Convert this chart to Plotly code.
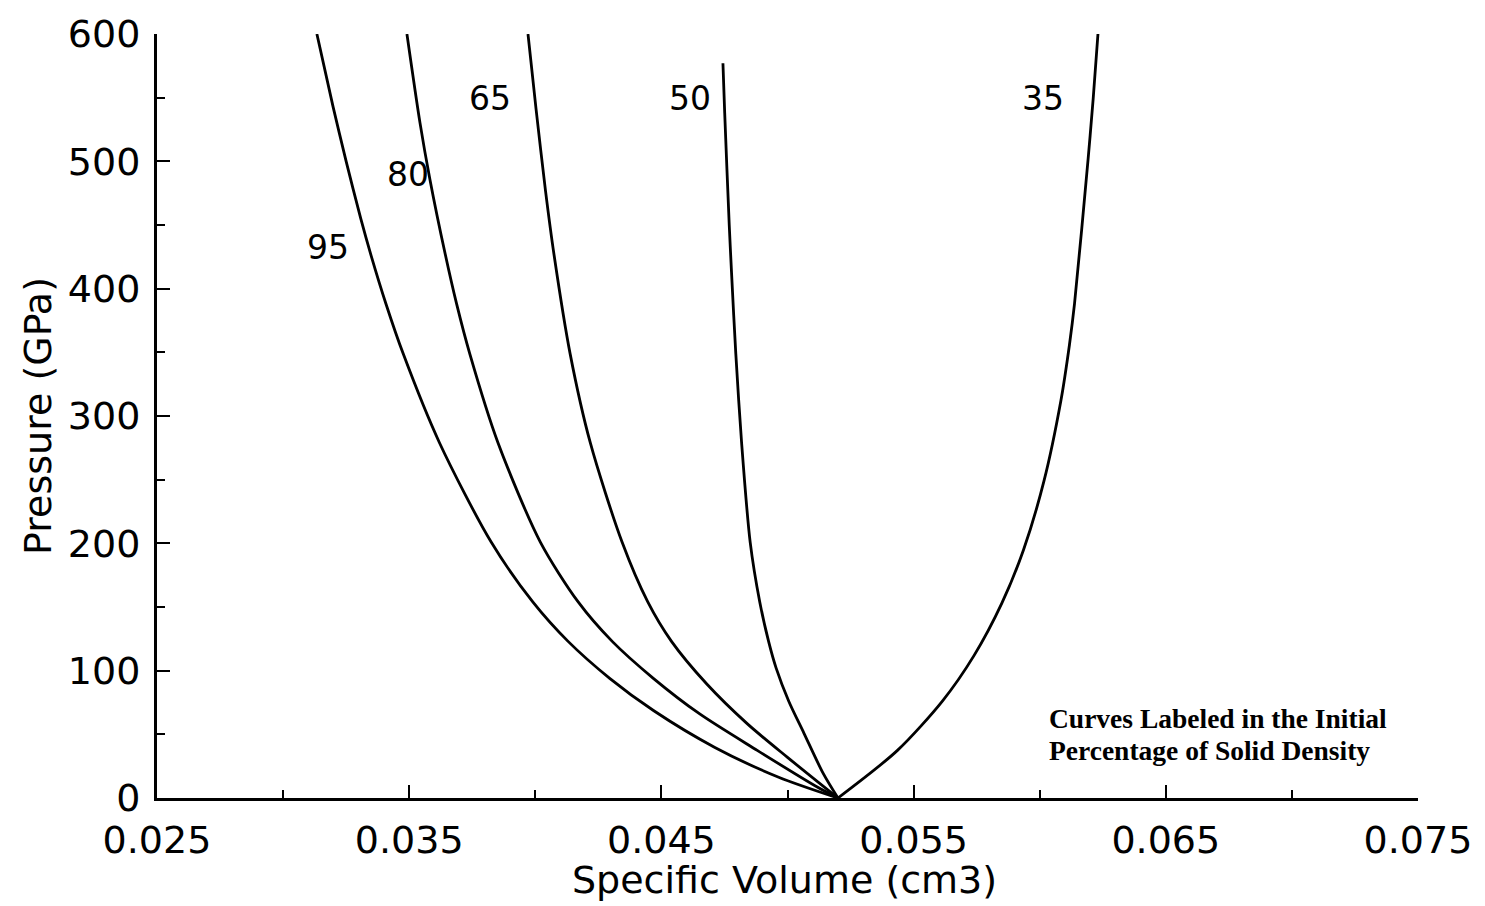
import plotly.graph_objects as go

# Hugoniot curves: specific volume (cm3) vs pressure (GPa), by initial % of solid density
vol_95 = [0.03134, 0.03198, 0.03250, 0.03308, 0.03349, 0.03408, 0.03476, 0.03620,
          0.03825, 0.03990, 0.04130, 0.04295, 0.04470, 0.04712, 0.04965, 0.05200]
p_95 = [600, 543, 500, 455, 426, 388, 349, 279, 201, 154, 123, 94, 68.5, 39.7, 16.3, 0]

vol_80 = [0.03491, 0.03543, 0.03582, 0.03643, 0.03688, 0.03740, 0.03852, 0.04020,
          0.04170, 0.04305, 0.04468, 0.04652, 0.04880, 0.05118, 0.05200]
p_80 = [600, 530, 486, 427, 388, 349, 279, 201, 154, 123, 94, 66, 37.4, 8.6, 0]

vol_65 = [0.03971, 0.04003, 0.04041, 0.04074, 0.04138, 0.04218, 0.04344, 0.04446,
          0.04540, 0.04680, 0.04840, 0.05000, 0.05200]
p_65 = [600, 541, 476, 427, 349, 279, 201, 154, 123, 89.5, 58.4, 31.9, 0]

vol_50 = [0.04744, 0.04751, 0.04769, 0.04778, 0.04795, 0.04818, 0.04852, 0.04890,
          0.04925, 0.04955, 0.05005, 0.05065, 0.05141, 0.05200]
p_50 = [577, 538, 450, 413, 349, 279, 201, 154, 123, 102, 76, 51, 19.5, 0]

vol_35 = [0.05200, 0.05436, 0.05615, 0.05740, 0.05850, 0.05936, 0.06017, 0.06084,
          0.06118, 0.06138, 0.06192, 0.06212, 0.06231]
p_35 = [0, 37.4, 76.3, 112, 153, 195, 249, 312, 356, 388, 502, 549, 600]

curve_names = ["95", "80", "65", "50", "35"]
curve_vols = [vol_95, vol_80, vol_65, vol_50, vol_35]
curve_press = [p_95, p_80, p_65, p_50, p_35]

# label anchor for each curve (volume, pressure)
label_vol = [0.03178, 0.03495, 0.03820, 0.04613, 0.06013]
label_p = [432, 490, 549, 549, 549]

x_ticks = [0.025, 0.035, 0.045, 0.055, 0.065, 0.075]
x_ticktext = ["0.025", "0.035", "0.045", "0.055", "0.065", "0.075"]
y_ticks = [0, 100, 200, 300, 400, 500, 600]

note_lines = ["Curves Labeled in the Initial", "Percentage of Solid Density"]

sans = "DejaVu Sans"
serif = "Liberation Serif"

fig = go.Figure()
for name, v, p in zip(curve_names, curve_vols, curve_press):
    fig.add_trace(go.Scatter(
        x=v, y=p, mode="lines", name=name,
        line=dict(color="black", width=2.8, shape="spline", smoothing=0.8),
        showlegend=False, hoverinfo="skip",
    ))

for name, lv, lp in zip(curve_names, label_vol, label_p):
    fig.add_annotation(x=lv, y=lp, text=name, showarrow=False,
                       font=dict(family=sans, size=33, color="black"),
                       xanchor="center", yanchor="middle")

# explanatory note in the lower right
for i, line in enumerate(note_lines):
    fig.add_annotation(xref="paper", yref="paper", x=0.7058, y=0.104 - i * 0.042,
                       text="<b>" + line + "</b>", showarrow=False,
                       xanchor="left", yanchor="middle",
                       font=dict(family=serif, size=27.5, color="black"))

# axis titles
fig.add_annotation(xref="paper", yref="paper", x=0.498, y=-0.107,
                   text="Specific Volume (cm3)", showarrow=False,
                   xanchor="center", yanchor="middle",
                   font=dict(family=sans, size=38, color="black"))
fig.add_annotation(xref="paper", yref="paper", x=-0.0944, y=0.50,
                   text="Pressure (GPa)", showarrow=False, textangle=-90,
                   xanchor="center", yanchor="middle",
                   font=dict(family=sans, size=38, color="black"))

fig.update_layout(
    width=1485, height=906,
    margin=dict(l=157, r=67, t=27, b=108),
    paper_bgcolor="white", plot_bgcolor="white",
    xaxis=dict(
        range=[0.025, 0.075], showgrid=False, zeroline=False,
        showline=True, linecolor="black", linewidth=3,
        tickvals=x_ticks, ticktext=x_ticktext,
        ticks="inside", ticklen=13, tickwidth=2, tickcolor="black",
        minor=dict(dtick=0.005, tick0=0.025, ticks="inside", ticklen=8,
                   tickwidth=2, tickcolor="black", showgrid=False),
        tickfont=dict(family=sans, size=38, color="black"),
        ticklabelstandoff=6,
    ),
    yaxis=dict(
        range=[0, 600], showgrid=False, zeroline=False,
        showline=True, linecolor="black", linewidth=3,
        tickvals=y_ticks,
        ticks="inside", ticklen=13, tickwidth=2, tickcolor="black",
        minor=dict(dtick=50, tick0=0, ticks="inside", ticklen=8,
                   tickwidth=2, tickcolor="black", showgrid=False),
        tickfont=dict(family=sans, size=38, color="black"),
        ticklabelstandoff=6,
    ),
)

fig.write_html("out.html")
